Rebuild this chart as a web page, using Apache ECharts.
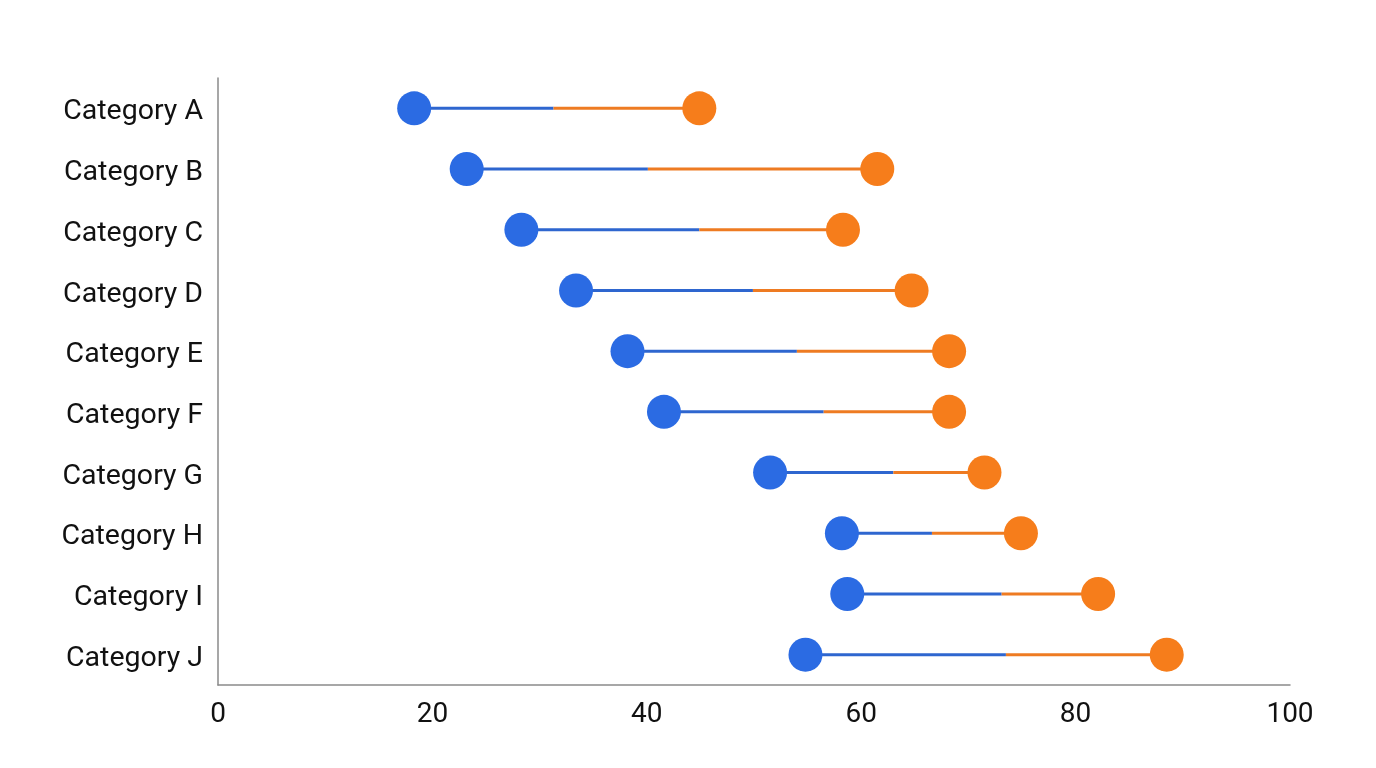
<!DOCTYPE html>
<html>
<head>
<meta charset="utf-8">
<script src="https://cdn.jsdelivr.net/npm/echarts@6/dist/echarts.min.js"></script>
<style>
  html, body { margin: 0; padding: 0; background: #fff; }
  #main { width: 1376px; height: 768px; }
</style>
</head>
<body>
<div id="main"></div>
<script>
var categories = ['Category A', 'Category B', 'Category C', 'Category D', 'Category E',
                  'Category F', 'Category G', 'Category H', 'Category I', 'Category J'];
var startValues = [18.3, 23.2, 28.3, 33.4, 38.2, 41.6, 51.5, 58.2, 58.7, 54.8];
// 线段颜色切换点
var splitValues = [31.3, 40.1, 44.9, 49.9, 54.0, 56.5, 63.0, 66.6, 73.1, 73.5];
var endValues = [44.9, 61.5, 58.3, 64.7, 68.2, 68.2, 71.5, 74.9, 82.1, 88.5];
var xTicks = [0, 20, 40, 60, 80, 100];

var blue = '#2b6be3';
var orange = '#f67d1b';
var blueLine = '#2e66cf';
var orangeLine = '#ee7b22';

var myChart = echarts.init(document.getElementById('main'));

// 连线数据: [类目序号, 起点, 切换点, 终点]
var linkData = categories.map(function (c, i) {
    return [i, startValues[i], splitValues[i], endValues[i]];
});

var option = {
    animation: false,
    grid: { left: 218, right: 86, top: 78, bottom: 83 },
    xAxis: {
        type: 'value',
        min: 0,
        max: 100,
        interval: 20,
        axisLine: { show: true, lineStyle: { color: '#8a8a8a', width: 1.5 } },
        axisTick: { show: false },
        splitLine: { show: false },
        axisLabel: {
            color: '#111', fontSize: 28, fontFamily: 'Roboto', margin: 16,
            formatter: function (v) { return xTicks.indexOf(v) >= 0 ? String(v) : ''; }
        }
    },
    yAxis: {
        type: 'category',
        data: categories,
        inverse: true,
        axisLine: { show: true, lineStyle: { color: '#8a8a8a', width: 1.5 } },
        axisTick: { show: false },
        splitLine: { show: false },
        axisLabel: {
            color: '#111', fontSize: 28.5, fontFamily: 'Roboto', margin: 15,
            verticalAlign: 'top', lineHeight: 8
        }
    },
    series: [
        {
            type: 'custom',
            data: linkData,
            encode: { x: [1, 2, 3], y: 0 },
            z: 1,
            renderItem: function (params, api) {
                var idx = api.value(0);
                var a = api.coord([api.value(1), idx]);
                var m = api.coord([api.value(2), idx]);
                var b = api.coord([api.value(3), idx]);
                return {
                    type: 'group',
                    children: [
                        { type: 'line', shape: { x1: a[0], y1: a[1], x2: m[0], y2: m[1] },
                          style: { stroke: blueLine, lineWidth: 3 } },
                        { type: 'line', shape: { x1: m[0], y1: m[1], x2: b[0], y2: b[1] },
                          style: { stroke: orangeLine, lineWidth: 3 } }
                    ]
                };
            }
        },
        {
            type: 'scatter',
            data: startValues.map(function (v, i) { return [v, i]; }),
            symbolSize: 34,
            itemStyle: { color: blue, opacity: 1 },
            z: 3
        },
        {
            type: 'scatter',
            data: endValues.map(function (v, i) { return [v, i]; }),
            symbolSize: 34,
            itemStyle: { color: orange, opacity: 1 },
            z: 3
        }
    ]
};

myChart.setOption(option);
</script>
</body>
</html>
